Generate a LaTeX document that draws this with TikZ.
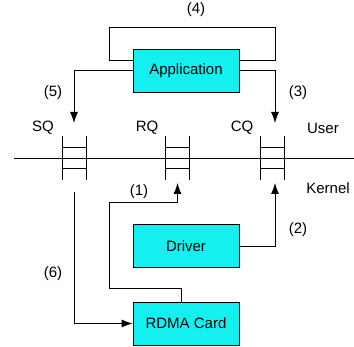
\documentclass[tikz,border=0pt]{standalone}
\usepackage{fontspec}
\setmainfont{Liberation Sans}
\usetikzlibrary{arrows.meta,calc}
\definecolor{boxfill}{HTML}{14F0F0}
\begin{document}
\begin{tikzpicture}[x=1pt,y=1pt,line width=0.8pt,>={Latex[length=11pt,width=8pt]},
 font=\fontsize{15}{18}\selectfont,
 block/.style={draw,fill=boxfill,minimum width=106pt,minimum height=43pt,inner sep=0pt},
 queue/.style={minimum width=24pt,minimum height=44pt,inner sep=0pt,outer sep=0pt},
 flow/.style={->},
 tag/.style={inner sep=0pt}]
\useasboundingbox (0,0) rectangle (354,347);
\node[block] (app) at (186,276.5) {Application};
\node[block] (drv) at (186,101) {Driver};
\node[block] (card) at (186,23.5) {RDMA Card};
\node[queue] (sq) at (74,189) {};
\node[queue] (rq) at (177.5,189) {};
\node[queue] (cq) at (272.5,189) {};
\coordinate (bl) at (14,189);
\coordinate (br) at (354,189);
\draw (bl) -- (br);
\foreach \q in {sq,rq,cq} \draw (\q.north west)--(\q.south west) (\q.north east)--(\q.south east)
 ($(\q.west)+(0,10.5)$)--($(\q.east)+(0,10.5)$) ($(\q.west)+(0,-10.5)$)--($(\q.east)+(0,-10.5)$);
\node[tag] (sqlab) at (43,219) {SQ};
\node[tag] (rqlab) at (147,219) {RQ};
\node[tag] (cqlab) at (242,219) {CQ};
\node[tag] (user) at (323,219) {User};
\node[tag] (kernel) at (328,159) {Kernel};
% loop (4)
\coordinate (loopl) at (109,320);
\coordinate (loopr) at (275,320);
\draw ($(app.west)+(0,10.5)$) -| (loopl) -- (loopr) |- ($(app.east)+(0,10.5)$);
\draw[flow] (app.west) -| ($(sq.north)+(0,13)$);
\draw[flow] (app.east) -| ($(cq.north)+(2.5,13)$);
\draw[flow] (drv.east) -| ($(cq.south)+(2.5,-3)$);
\coordinate (k1) at (109,59);
\coordinate (k2) at (109,145);
\draw[flow] ($(card.north)+(-5,0)$) |- (k1) -- (k2) -| ($(rq.south)+(0,-3)$);
\draw[flow] ($(sq.south)+(0,-12)$) |- (card.west);
\node[tag] (l4) at (196,337) {(4)};
\node[tag] (l5) at (53,254) {(5)};
\node[tag] (l3) at (298,254) {(3)};
\node[tag] (l1) at (139,155) {(1)};
\node[tag] (l2) at (298,117) {(2)};
\node[tag] (l6) at (53,73) {(6)};
\end{tikzpicture}
\end{document}
